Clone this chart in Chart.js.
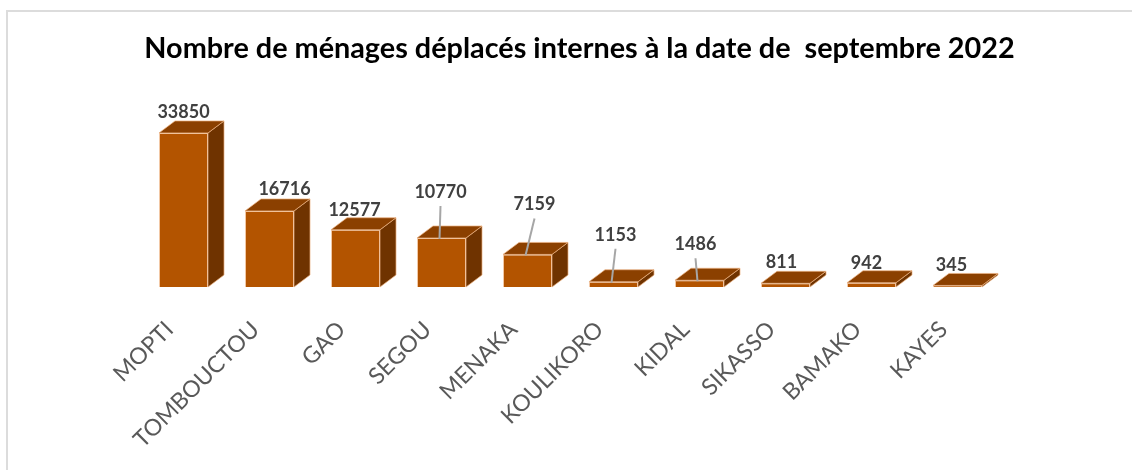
<!DOCTYPE html>
<html>
<head>
<meta charset="utf-8">
<script src="https://cdn.jsdelivr.net/npm/chart.js@4"></script>
<style>
  body { margin: 0; background: #fff; }
  #wrap { position: relative; width: 1132px; height: 470px; }
  #frame { position: absolute; left: 6px; top: 10px; right: 0; bottom: 0;
           border-left: 2px solid #dcdcdc; border-top: 2px solid #dcdcdc; }
  canvas { position: absolute; left: 0; top: 0; }
</style>
</head>
<body>
<div id="wrap">
  <div id="frame"></div>
  <canvas id="menages_chart" width="1132" height="470"></canvas>
</div>
<script>
const regions = ["MOPTI", "TOMBOUCTOU", "GAO", "SEGOU", "MENAKA", "KOULIKORO", "KIDAL", "SIKASSO", "BAMAKO", "KAYES"];
const menages = [33850, 16716, 12577, 10770, 7159, 1153, 1486, 811, 942, 345];

// where each value label sits, relative to the back top edge of its bar
const labelShift = [[0, -9], [15, -10], [-1, -8], [-1, -34], [7, -38], [2, -35], [-4, -24], [-4, -9], [-5, -8], [-6, -8]];
const hasLeader = [false, false, false, true, true, true, true, false, false, false];

const DEPTH_X = 16, DEPTH_Y = 12;

const bars3d = {
  id: "bars3d",
  afterDatasetsDraw(chart) {
    const ctx = chart.ctx;
    const meta = chart.getDatasetMeta(0);
    ctx.save();
    meta.data.forEach((bar) => {
      const left = bar.x - bar.width / 2, right = bar.x + bar.width / 2;
      const top = bar.y, bottom = bar.base;
      ctx.lineWidth = 1;
      ctx.strokeStyle = "rgba(236,178,130,0.7)";
      // side face
      ctx.fillStyle = "#6f3300";
      ctx.beginPath();
      ctx.moveTo(right, top);
      ctx.lineTo(right + DEPTH_X, top - DEPTH_Y);
      ctx.lineTo(right + DEPTH_X, bottom - DEPTH_Y);
      ctx.lineTo(right, bottom);
      ctx.closePath();
      ctx.fill();
      ctx.stroke();
      // top face
      ctx.fillStyle = "#8b4000";
      ctx.beginPath();
      ctx.moveTo(left, top);
      ctx.lineTo(right, top);
      ctx.lineTo(right + DEPTH_X, top - DEPTH_Y);
      ctx.lineTo(left + DEPTH_X, top - DEPTH_Y);
      ctx.closePath();
      ctx.fill();
      ctx.stroke();
    });

    ctx.font = "bold 18px Lato";
    ctx.fillStyle = "#404040";
    ctx.textAlign = "center";
    ctx.textBaseline = "middle";
    meta.data.forEach((bar, i) => {
      const lx = bar.x + labelShift[i][0];
      const ly = bar.y - DEPTH_Y + labelShift[i][1];
      if (hasLeader[i]) {
        ctx.strokeStyle = "#a6a6a6";
        ctx.lineWidth = 2;
        ctx.beginPath();
        ctx.moveTo(lx, ly + 14);
        ctx.lineTo(bar.x - 2, bar.y + 1);
        ctx.stroke();
      }
      ctx.fillText(String(menages[i]), lx, ly);
    });
    ctx.restore();
  }
};

const menages_chart = new Chart("menages_chart", {
  type: "bar",
  data: {
    labels: regions,
    datasets: [{
      data: menages,
      backgroundColor: "#b35400",
      borderColor: "rgba(236,178,130,0.7)",
      borderWidth: 1,
      barPercentage: 0.57,
      categoryPercentage: 1.0
    }]
  },
  options: {
    responsive: false,
    animation: false,
    layout: { padding: { left: 140.5, right: 113.5, top: 0, bottom: 0 } },
    plugins: {
      legend: { display: false },
      tooltip: { enabled: false },
      title: {
        display: true,
        text: "Nombre de ménages déplacés internes à la date de  septembre 2022",
        color: "#000",
        font: { family: "Lato", size: 28.8, weight: "bold" },
        padding: { top: 31.7, bottom: 38.7 }
      }
    },
    scales: {
      x: {
        grid: { display: false, drawTicks: false },
        border: { display: false },
        ticks: {
          color: "#595959",
          font: { family: "Lato", size: 23 },
          minRotation: 45,
          maxRotation: 45,
          labelOffset: -14,
          padding: 29
        },
        afterFit(scale) { scale.height = 183; }
      },
      y: {
        position: "right",
        min: 0,
        max: 40000,
        grid: { display: false },
        border: { display: false },
        ticks: { display: false },
        afterFit(scale) { scale.width = 18; }
      }
    }
  },
  plugins: [bars3d]
});
</script>
</body>
</html>
